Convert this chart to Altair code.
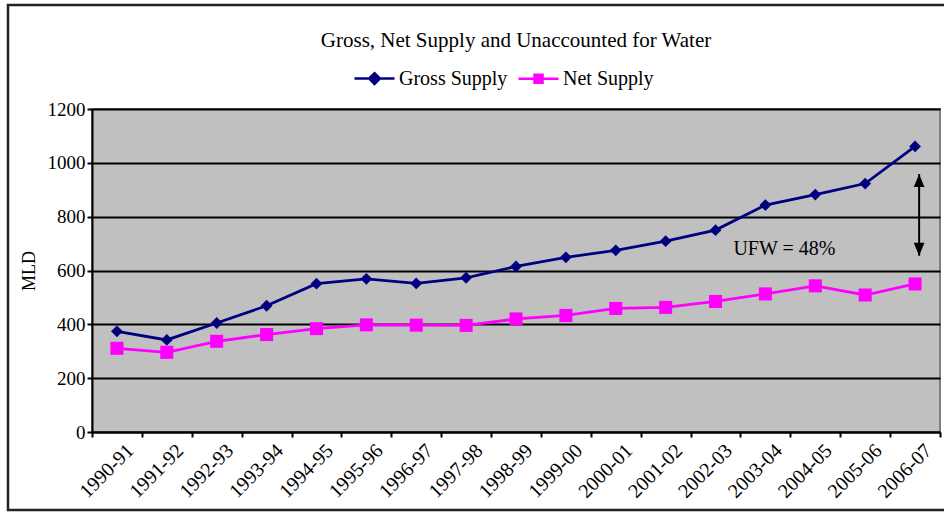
import altair as alt
import pandas as pd

# Financial years on the x axis
years = ["1990-91", "1991-92", "1992-93", "1993-94", "1994-95", "1995-96",
         "1996-97", "1997-98", "1998-99", "1999-00", "2000-01", "2001-02",
         "2002-03", "2003-04", "2004-05", "2005-06", "2006-07"]

# Supply in million litres per day (MLD)
gross = [374, 342, 405, 469, 551, 569, 552, 573, 615, 649, 675, 709, 750, 843, 882, 923, 1061]
net = [311, 296, 337, 362, 384, 398, 397, 396, 420, 433, 459, 463, 485, 513, 543, 509, 550]

series = ["Gross Supply", "Net Supply"]
colors = ["#000080", "#FF00FF"]
shapes = ["diamond", "square"]
marker_sizes = [140, 170]

df = pd.DataFrame({
    "year": years * 2,
    "series": [series[0]] * len(years) + [series[1]] * len(years),
    "value": gross + net,
})

# Unaccounted-for water in the latest year
ufw = round((gross[-1] - net[-1]) / gross[-1] * 100)
arrow_top, arrow_bottom = 958, 655
ann = pd.DataFrame({"year": [years[-1]], "top": [arrow_top], "bottom": [arrow_bottom],
                    "label_year": [years[-4]], "label_value": [680],
                    "text": [f"UFW = {ufw}%"]})

FONT = "Liberation Serif"

x_enc = alt.X("year:N", sort=years, title=None,
              scale=alt.Scale(paddingInner=0, paddingOuter=0),
              axis=alt.Axis(labelAngle=-45, tickBand="extent", labelOffset=6,
                            labelPadding=3, tickSize=5, tickColor="black",
                            tickWidth=2, domainColor="black", domainWidth=2,
                            labelFont=FONT, labelFontSize=20, labelColor="black",
                            grid=False))
y_enc = alt.Y("value:Q", title="MLD",
              scale=alt.Scale(domain=[0, 1200]),
              axis=alt.Axis(values=[0, 200, 400, 600, 800, 1000, 1200], format="d",
                            tickSize=5, tickColor="black", tickWidth=2,
                            domainColor="black", domainWidth=2,
                            gridColor="black", gridWidth=2, gridOpacity=1,
                            labelFont=FONT, labelFontSize=19, labelColor="black",
                            titleFont=FONT, titleFontSize=18, titleFontWeight="normal",
                            titleColor="black", titlePadding=9))

color_scale = alt.Scale(domain=series, range=colors)

# Legend swatch: a short line with the series marker on it
legend_path = ("datum.value == 'Gross Supply' ? "
               "'M-1,0H1M0,-0.27L0.27,0L0,0.27L-0.27,0Z' : "
               "'M-1,0H1M-0.2,-0.2H0.2V0.2H-0.2Z'")
legend = alt.Legend(title=None, orient="none", direction="horizontal",
                    legendX=261, legendY=-52,
                    symbolType=alt.ExprRef(expr=legend_path),
                    symbolSize=1600, symbolStrokeWidth=2.5,
                    symbolFillColor=alt.ExprRef(
                        expr="datum.value == 'Gross Supply' ? '#000080' : '#FF00FF'"),
                    labelFont=FONT, labelFontSize=20,
                    labelColor="black", labelOffset=3,
                    columnPadding=5)

lines = alt.Chart(df).mark_line(strokeWidth=2.8).encode(
    x=x_enc, y=y_enc,
    color=alt.Color("series:N", scale=color_scale, legend=legend),
)

# Markers for each series, drawn on top of the lines
marker_layers = [
    alt.Chart(df).transform_filter(alt.datum.series == name).mark_point(
        filled=True, opacity=1, color=col, shape=shp, size=sz).encode(x=x_enc, y=y_enc)
    for name, col, shp, sz in zip(series, colors, shapes, marker_sizes)
]

# Double-headed arrow marking the gap in the latest year, just right of its markers
arrow_x = alt.X("year:N", sort=years)
arrow_shift = alt.value(29)
arrow_line = alt.Chart(ann).mark_rule(strokeWidth=2, color="black").encode(
    x=arrow_x, y=alt.Y("top:Q"), y2="bottom:Q", xOffset=arrow_shift)
arrow_up = alt.Chart(ann).mark_point(filled=True, color="black", opacity=1,
                                     shape="M0,0L-1,2.4L1,2.4Z", size=115).encode(
    x=arrow_x, y=alt.Y("top:Q"), xOffset=arrow_shift)
arrow_down = alt.Chart(ann).mark_point(filled=True, color="black", opacity=1,
                                       shape="M0,0L-1,-2.4L1,-2.4Z", size=115).encode(
    x=arrow_x, y=alt.Y("bottom:Q"), xOffset=arrow_shift)
label = alt.Chart(ann).mark_text(font=FONT, fontSize=20, color="black", dx=19).encode(
    x=alt.X("label_year:N", sort=years), y=alt.Y("label_value:Q"), text="text:N")

# Frame around the whole figure
frame = alt.Chart(ann).mark_rect(fill=None, stroke="#222222", strokeWidth=2.5).encode(
    x=alt.value(-84), x2=alt.value(870), y=alt.value(-104), y2=alt.value(401))

chart = alt.layer(lines, *marker_layers, arrow_line, arrow_up, arrow_down, label,
                  frame).properties(
    width=848, height=323,
    title=alt.Title("Gross, Net Supply and Unaccounted for Water", font=FONT,
                    fontSize=21, fontWeight="normal", color="black", anchor="middle",
                    frame="group", offset=0, dy=47),
    padding={"left": 92, "top": 109, "right": 4, "bottom": 80},
    autosize=alt.AutoSizeParams(type="none"),
).configure_view(fill="#C0C0C0", stroke="#808080", strokeWidth=2)

chart.save("out.html", embed_options={"renderer": "svg", "actions": False})
